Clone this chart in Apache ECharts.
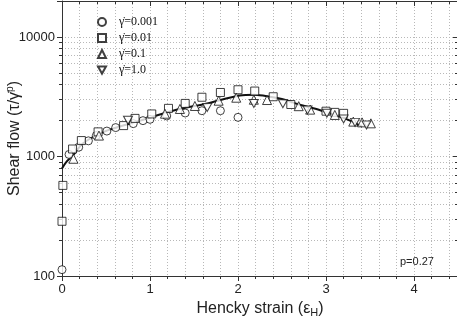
<!DOCTYPE html>
<html>
<head>
<meta charset="utf-8">
<script src="https://cdn.jsdelivr.net/npm/echarts@6/dist/echarts.min.js"></script>
<style>html,body{margin:0;padding:0;background:#fff;}#c{width:457px;height:323px;}</style>
</head>
<body>
<div id="c"></div>
<script>
// Data
const seriesNames = ['\u03B3\u0307=0.001', '\u03B3\u0307=0.01', '\u03B3\u0307=0.1', '\u03B3\u0307=1.0'];

const circleX = [0, 0.08, 0.19, 0.30, 0.39, 0.51, 0.61, 0.81, 0.92, 1.0, 1.19, 1.40, 1.59, 1.80, 2.0];
const circleY = [113, 1040, 1196, 1352, 1496, 1632, 1745, 1884, 1995, 2046, 2184, 2312, 2416, 2416, 2126];

const squareX = [0, 0.01, 0.12, 0.22, 0.41, 0.70, 0.83, 1.02, 1.21, 1.40, 1.59, 1.80, 2.0, 2.19, 2.40, 2.60, 3.0, 3.10, 3.20];
const squareY = [287, 573, 1155, 1359, 1607, 1813, 2084, 2270, 2527, 2780, 3131, 3433, 3617, 3528, 3162, 2723, 2393, 2339, 2296];

const upX = [0.13, 0.42, 1.17, 1.34, 1.51, 1.78, 1.98, 2.18, 2.33, 2.69, 2.82, 3.10, 3.31, 3.41, 3.51];
const upY = [957, 1496, 2280, 2498, 2646, 2929, 3103, 2985, 2968, 2636, 2466, 2226, 1957, 1930, 1894];

const downX = [0.75, 1.65, 2.18, 2.51, 2.79, 3.01, 3.20, 3.33, 3.46];
const downY = [2007, 2576, 2773, 2765, 2449, 2304, 2061, 1930, 1837];

const fitX = [0, 0.05, 0.125, 0.24, 0.51, 0.89, 1.26, 1.65, 2.02, 2.19, 2.36, 2.53, 2.7, 2.88, 3.05, 3.22, 3.41];
const fitY = [794, 900, 1023, 1290, 1644, 1995, 2416, 2780, 3240, 3286, 3162, 2985, 2712, 2512, 2282, 2073, 1778];

const xTicks = [0, 1, 2, 3, 4];
const yTicks = [100, 1000, 10000];

const zip = (a, b) => a.map((v, i) => [v, b[i]]);
const downPath = 'path://M0,0 L10,0 L5,9 Z';
const sans = 'Liberation Sans, Arial, sans-serif';
const serif = 'Liberation Serif, Times New Roman, serif';
const dotted = { show: true, lineStyle: { color: '#b8b8b8', type: [1, 2], width: 1 } };

const markerStyle = { color: '#ffffff', borderColor: '#111', borderWidth: 1 };

const chart = echarts.init(document.getElementById('c'), null, { renderer: 'canvas' });
chart.setOption({
  animation: false,
  backgroundColor: '#ffffff',
  grid: { left: 62, top: 1, width: 396, height: 275, containLabel: false, outerBoundsMode: 'none' },
  legend: {
    data: seriesNames,
    orient: 'vertical',
    left: 92,
    top: 11,
    itemWidth: 8,
    itemHeight: 8,
    itemGap: 4,
    textStyle: { fontFamily: serif, fontSize: 12, color: '#111', lineHeight: 9, padding: [0, 0, 0, 8] }
  },
  xAxis: [{
    type: 'value', min: 0, max: 4.5, interval: 1,
    axisLine: { lineStyle: { color: '#333', width: 1 } },
    axisTick: { show: true, inside: false, length: 5, lineStyle: { color: '#333' } },
    minorTick: { show: true, splitNumber: 5, length: 3, lineStyle: { color: '#333' } },
    axisLabel: {
      fontFamily: sans, fontSize: 13, color: '#222', margin: 7, showMaxLabel: false,
      formatter: v => (xTicks.indexOf(v) >= 0 ? String(v) : '')
    },
    splitLine: dotted,
    minorSplitLine: dotted,
    name: 'Hencky strain (\u03B5{sub|H})',
    nameLocation: 'middle',
    nameGap: 23,
    nameMoveOverlap: false,
    nameTextStyle: { fontFamily: sans, fontSize: 16, color: '#222',
      rich: { sub: { fontFamily: sans, fontSize: 11, color: '#222', padding: [8, 0, 0, 0] } } }
  }, {
    type: 'value', min: 0, max: 4.5, interval: 1, position: 'top',
    axisLine: { show: true, onZero: false, lineStyle: { color: '#333', width: 1 } },
    axisTick: { show: true, inside: true, length: 5, lineStyle: { color: '#333' } },
    minorTick: { show: true, splitNumber: 5, length: 3, lineStyle: { color: '#333' } },
    axisLabel: { show: false },
    splitLine: { show: false }
  }],
  yAxis: [{
    type: 'log', min: 100, max: 20000, logBase: 10,
    axisLine: { show: true, onZero: false, lineStyle: { color: '#333', width: 1 } },
    axisTick: { show: true, inside: false, length: 5, lineStyle: { color: '#333' } },
    minorTick: { show: true, splitNumber: 9, length: 3, lineStyle: { color: '#333' } },
    axisLabel: {
      fontFamily: sans, fontSize: 13, color: '#222', margin: 7, showMaxLabel: false,
      formatter: v => (yTicks.indexOf(v) >= 0 ? String(v) : '')
    },
    splitLine: dotted,
    minorSplitLine: dotted,
    name: 'Shear flow (\u03C4/\u03B3\u0307{sup|p})',
    nameLocation: 'middle',
    nameGap: 38,
    nameMoveOverlap: false,
    nameTextStyle: { fontFamily: sans, fontSize: 16, color: '#222',
      rich: { sup: { fontFamily: sans, fontSize: 10, color: '#222', padding: [0, 0, 9, 0] } } }
  }, {
    type: 'log', min: 100, max: 20000, logBase: 10, position: 'right',
    axisLine: { show: true, onZero: false, lineStyle: { color: '#333', width: 1 } },
    axisTick: { show: true, inside: true, length: 5, lineStyle: { color: '#333' } },
    minorTick: { show: true, splitNumber: 9, length: 3, lineStyle: { color: '#333' } },
    axisLabel: { show: false },
    splitLine: { show: false }
  }],
  graphic: [{
    type: 'text', left: 400, top: 256,
    style: { text: 'p=0.27', fontFamily: sans, fontSize: 11, fill: '#222' }
  }],
  series: [
    { name: 'fit', type: 'line', data: zip(fitX, fitY), smooth: 0.3, showSymbol: false, symbol: 'none',
      lineStyle: { color: '#111', width: 2 }, z: 1, silent: true },
    { name: seriesNames[0], type: 'scatter', data: zip(circleX, circleY), symbol: 'circle', symbolSize: 8,
      itemStyle: markerStyle, z: 3 },
    { name: seriesNames[1], type: 'scatter', data: zip(squareX, squareY), symbol: 'rect', symbolSize: 8,
      itemStyle: markerStyle, z: 3 },
    { name: seriesNames[2], type: 'scatter', data: zip(upX, upY), symbol: 'triangle', symbolSize: 9,
      itemStyle: markerStyle, z: 3 },
    { name: seriesNames[3], type: 'scatter', data: zip(downX, downY), symbol: downPath, symbolSize: [9, 8],
      itemStyle: markerStyle, z: 3 }
  ]
});
</script>
</body>
</html>
